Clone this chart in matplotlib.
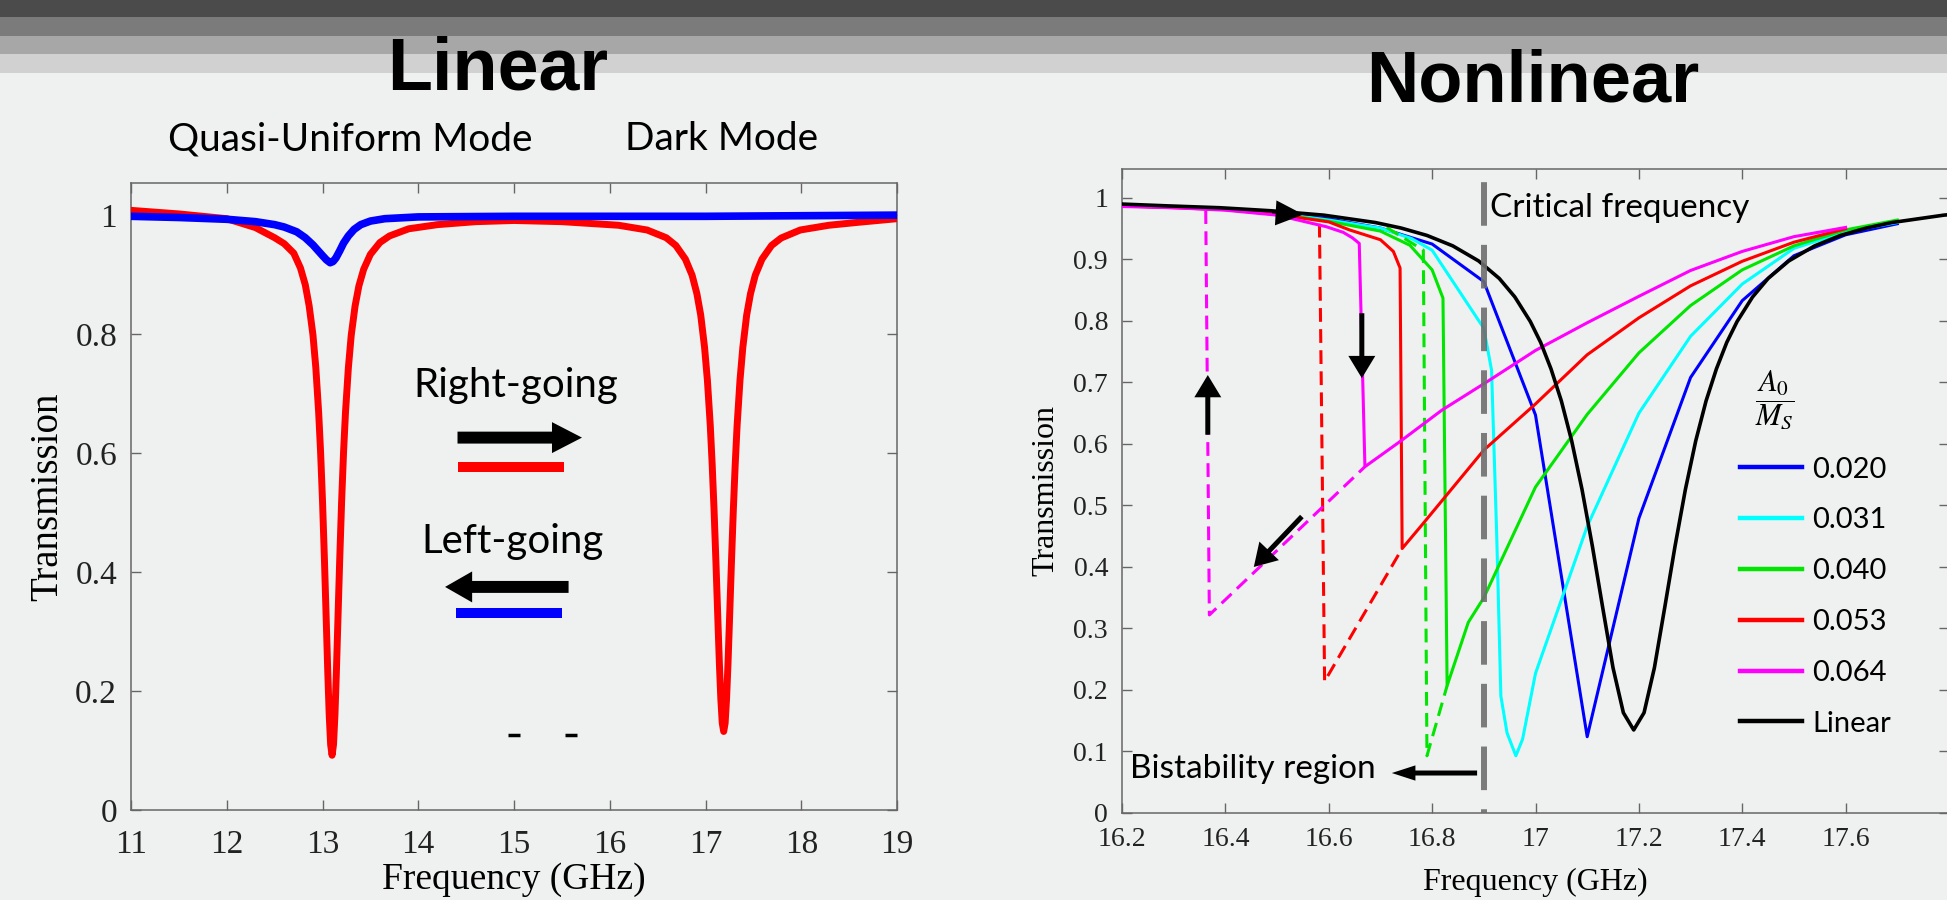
import matplotlib
matplotlib.use('Agg')
import matplotlib.pyplot as plt
from matplotlib.lines import Line2D

plt.rcParams['font.family'] = ['Liberation Serif', 'DejaVu Serif']
plt.rcParams['mathtext.fontset'] = 'stix'

# ---------------- dane: panel "Linear" ----------------
right_going_f = [11.0, 11.5, 12.0, 12.3, 12.5, 12.6, 12.7, 12.77, 12.82, 12.86, 12.9, 12.93, 12.96,
                 12.98, 13.0, 13.02, 13.04, 13.055, 13.07, 13.085, 13.1, 13.115, 13.13, 13.145,
                 13.16, 13.18, 13.2, 13.22, 13.24, 13.27, 13.3, 13.34, 13.38, 13.43, 13.5, 13.6,
                 13.7, 13.9, 14.2, 14.6, 15.0, 15.5, 16.09, 16.39, 16.59, 16.69, 16.79, 16.86,
                 16.91, 16.95, 16.99, 17.02, 17.05, 17.07, 17.09, 17.11, 17.13, 17.145, 17.16,
                 17.175, 17.19, 17.205, 17.22, 17.235, 17.25, 17.27, 17.29, 17.31, 17.33, 17.36,
                 17.39, 17.43, 17.47, 17.52, 17.59, 17.69, 17.79, 17.99, 18.29, 18.6, 19.0]
right_going_t = [1.008, 1.002, 0.994, 0.979, 0.962, 0.952, 0.936, 0.911, 0.883, 0.848, 0.799, 0.744,
                 0.668, 0.602, 0.52, 0.422, 0.314, 0.232, 0.16, 0.11, 0.092, 0.11, 0.16, 0.232,
                 0.314, 0.422, 0.52, 0.602, 0.668, 0.743, 0.798, 0.847, 0.881, 0.909, 0.934, 0.954,
                 0.965, 0.977, 0.984, 0.989, 0.991, 0.989, 0.983, 0.975, 0.962, 0.949, 0.926, 0.899,
                 0.868, 0.832, 0.778, 0.722, 0.646, 0.58, 0.502, 0.412, 0.316, 0.246, 0.187,
                 0.146, 0.132, 0.146, 0.187, 0.246, 0.316, 0.412, 0.502, 0.58, 0.646, 0.722,
                 0.778, 0.832, 0.868, 0.899, 0.926, 0.949, 0.9615, 0.975, 0.983, 0.988, 0.994]

left_going_f = [11.0, 11.5, 12.0, 12.3, 12.5, 12.6, 12.73, 12.82, 12.9, 12.95, 13.0, 13.04, 13.08,
                13.11, 13.14, 13.18, 13.22, 13.27, 13.33, 13.4, 13.5, 13.65, 14.0, 15.0, 16.0,
                17.0, 18.0, 19.0]
left_going_t = [0.998, 0.996, 0.993, 0.989, 0.984, 0.98, 0.972, 0.962, 0.95, 0.941, 0.932, 0.925,
                0.92, 0.922, 0.928, 0.94, 0.953, 0.965, 0.976, 0.984, 0.99, 0.994, 0.997, 0.998,
                0.998, 0.998, 0.999, 1.0]

stray_f = [15.0, 15.6]
stray_t = [0.126, 0.126]

lin_xticks = [11, 12, 13, 14, 15, 16, 17, 18, 19]
lin_yticks = [0, 0.2, 0.4, 0.6, 0.8, 1.0]
lin_ylabels = ['0', '0.2', '0.4', '0.6', '0.8', '1']

# ---------------- dane: panel "Nonlinear" ----------------
amp_labels = ['0.020', '0.031', '0.040', '0.053', '0.064', 'Linear']

a020_f = [16.2, 16.3, 16.4, 16.5, 16.6, 16.7, 16.8, 16.9, 17.0, 17.1, 17.2, 17.3, 17.4, 17.5, 17.6, 17.7]
a020_t = [0.987, 0.985, 0.982, 0.976, 0.966, 0.951, 0.925, 0.864, 0.647, 0.124, 0.479, 0.708, 0.833,
          0.906, 0.94, 0.958]

a031_f = [16.2, 16.3, 16.4, 16.5, 16.6, 16.7, 16.76, 16.8, 16.9, 16.915, 16.925, 16.933, 16.945,
          16.962, 16.975, 17.0, 17.1, 17.2, 17.3, 17.4, 17.5, 17.6, 17.7]
a031_t = [0.987, 0.985, 0.982, 0.975, 0.964, 0.951, 0.934, 0.915, 0.788, 0.72, 0.45, 0.19, 0.13,
          0.093, 0.12, 0.227, 0.466, 0.65, 0.775, 0.86, 0.918, 0.945, 0.96]

a040_f = [16.2, 16.3, 16.4, 16.5, 16.6, 16.7, 16.757, 16.8, 16.821, 16.829, 16.87, 16.9, 17.0,
          17.1, 17.2, 17.3, 17.4, 17.5, 17.6, 17.7]
a040_t = [0.987, 0.985, 0.981, 0.974, 0.962, 0.946, 0.923, 0.883, 0.837, 0.207, 0.31, 0.35, 0.53,
          0.648, 0.748, 0.825, 0.883, 0.922, 0.948, 0.964]
a040_back_f = [16.712, 16.783, 16.79, 16.829]
a040_back_t = [0.952, 0.915, 0.093, 0.207]

a053_f = [16.2, 16.3, 16.4, 16.5, 16.6, 16.64, 16.7, 16.725, 16.738, 16.742, 16.78, 16.9, 17.0,
          17.1, 17.2, 17.3, 17.4, 17.5, 17.6]
a053_t = [0.987, 0.984, 0.981, 0.973, 0.961, 0.948, 0.932, 0.913, 0.886, 0.43, 0.468, 0.59, 0.665,
          0.745, 0.805, 0.857, 0.897, 0.928, 0.95]
a053_back_f = [16.582, 16.592, 16.742]
a053_back_t = [0.958, 0.214, 0.43]

a064_f = [16.2, 16.3, 16.4, 16.5, 16.596, 16.628, 16.646, 16.659, 16.67, 16.738, 16.819, 16.906,
          17.0, 17.1, 17.2, 17.3, 17.4, 17.5, 17.6]
a064_t = [0.986, 0.984, 0.98, 0.972, 0.953, 0.944, 0.935, 0.926, 0.563, 0.604, 0.655, 0.701,
          0.752, 0.797, 0.84, 0.882, 0.913, 0.937, 0.952]
a064_back_f = [16.362, 16.369, 16.67]
a064_back_t = [0.98, 0.322, 0.563]

linear_f = [16.2, 16.29, 16.39, 16.49, 16.59, 16.69, 16.74, 16.79, 16.84, 16.89, 16.93, 16.96,
            16.99, 17.01, 17.03, 17.05, 17.07, 17.09, 17.11, 17.13, 17.15, 17.17, 17.19, 17.21,
            17.23, 17.25, 17.27, 17.29, 17.31, 17.33, 17.35, 17.37, 17.39, 17.42, 17.45, 17.49,
            17.54, 17.59, 17.64, 17.69, 17.79, 17.89]
linear_t = [0.99, 0.987, 0.984, 0.979, 0.972, 0.96, 0.951, 0.939, 0.922, 0.8975, 0.869, 0.839,
            0.799, 0.765, 0.722, 0.67, 0.605, 0.526, 0.434, 0.334, 0.236, 0.163, 0.135, 0.163,
            0.236, 0.334, 0.434, 0.526, 0.605, 0.67, 0.722, 0.765, 0.799, 0.839, 0.869, 0.8975,
            0.922, 0.939, 0.951, 0.96, 0.972, 0.979]

critical_f = 16.9

nl_xticks = [16.2, 16.4, 16.6, 16.8, 17.0, 17.2, 17.4, 17.6]
nl_xlabels = ['16.2', '16.4', '16.6', '16.8', '17', '17.2', '17.4', '17.6']
nl_yticks = [0, 0.1, 0.2, 0.3, 0.4, 0.5, 0.6, 0.7, 0.8, 0.9, 1.0]
nl_ylabels = ['0', '0.1', '0.2', '0.3', '0.4', '0.5', '0.6', '0.7', '0.8', '0.9', '1']

W, H = 1947, 900
BG = '#eff1f0'
SANS = ['Lato', 'DejaVu Sans']

fig = plt.figure(figsize=(W / 100, H / 100), dpi=100, facecolor=BG)

# pasy nagłówka slajdu
bands = [(0, 17, '#4a4b4a'), (17, 36, '#7a7b7a'), (36, 54, '#a6a7a6'), (54, 73, '#d0d1d0')]
for top, bot, col in bands:
    fig.add_artist(plt.Rectangle((0, 1 - bot / H), 1, (bot - top) / H, transform=fig.transFigure,
                                 color=col, lw=0, zorder=0))

fig.text(498 / W, 1 - 89 / H, 'Linear', ha='center', va='baseline', fontsize=53,
         fontweight='bold', family=['Liberation Sans'])
fig.text(1533 / W, 1 - 102 / H, 'Nonlinear', ha='center', va='baseline', fontsize=52,
         fontweight='bold', family=['Liberation Sans'])
fig.text(350 / W, 1 - 150 / H, 'Quasi-Uniform Mode', ha='center', va='baseline', fontsize=28,
         family=SANS)
fig.text(722 / W, 1 - 150 / H, 'Dark Mode', ha='center', va='baseline', fontsize=28, family=SANS)


def style_axes(ax, labelsize, length):
    ax.set_facecolor('none')
    for sp in ax.spines.values():
        sp.set_color('#666666')
        sp.set_linewidth(1.1)
    ax.tick_params(direction='in', top=True, right=True, length=length, width=1,
                   color='#666666', labelcolor='#222222', labelsize=labelsize)


# ---------------- panel lewy ----------------
ax1 = fig.add_axes([131 / W, 1 - 810 / H, 766 / W, 627 / H])
style_axes(ax1, 24, 7)
ax1.tick_params(axis='x', pad=14)
ax1.tick_params(axis='y', pad=10)
ax1.plot(right_going_f, right_going_t, color='#ff0000', lw=5, zorder=3)
ax1.plot(left_going_f, left_going_t, color='#0000ff', lw=5.5, zorder=4)
ax1.plot(stray_f, stray_t, ls='none', marker='_', ms=8, mew=2.5, color='k')
ax1.set_xlim(11, 19)
ax1.set_ylim(0, 1.054)
ax1.set_xticks(lin_xticks)
ax1.set_yticks(lin_yticks)
ax1.set_yticklabels(lin_ylabels)
ax1.set_xlabel('Frequency (GHz)', fontsize=27)
ax1.set_ylabel('Transmission', fontsize=28)
ax1.xaxis.set_label_coords(0.5, -0.083)
ax1.yaxis.set_label_coords(-0.085, 0.5)

ax1.text(15.02, 0.713, 'Right-going', ha='center', va='center', fontsize=29, family=SANS)
ax1.text(14.98, 0.452, 'Left-going', ha='center', va='center', fontsize=29, family=SANS)
big_arrow = dict(arrowstyle='simple,head_length=2.16,head_width=2.23,tail_width=0.86',
                 mutation_scale=10, color='k', lw=0, shrinkA=0, shrinkB=0)
ax1.annotate('', xy=(15.71, 0.626), xytext=(14.41, 0.626), arrowprops=big_arrow)
left_arrow = dict(big_arrow, arrowstyle='simple,head_length=1.95,head_width=2.23,tail_width=0.86')
ax1.annotate('', xy=(14.28, 0.375), xytext=(15.57, 0.375), arrowprops=left_arrow)
ax1.plot([14.41, 15.52], [0.576, 0.576], color='#ff0000', lw=7.2, solid_capstyle='butt')
ax1.plot([14.39, 15.50], [0.332, 0.332], color='#0000ff', lw=7.2, solid_capstyle='butt')

# ---------------- panel prawy ----------------
ax2 = fig.add_axes([1122 / W, 1 - 813 / H, 827 / W, 644 / H])
style_axes(ax2, 20, 7)
ax2.tick_params(axis='x', pad=10)
ax2.tick_params(axis='y', pad=10)

colors = ['#0000ff', '#00ffff', '#00e600', '#ff0000', '#ff00ff', 'k']
dash = (4.5, 2.4)
ax2.plot(a020_f, a020_t, color=colors[0], lw=2.2, zorder=3)
ax2.plot(a031_f, a031_t, color=colors[1], lw=2.2, zorder=3)
ax2.plot(a040_f, a040_t, color=colors[2], lw=2.2, zorder=3)
ax2.plot(a040_back_f, a040_back_t, color=colors[2], lw=2.2, dashes=dash, zorder=3)
ax2.plot(a053_f, a053_t, color=colors[3], lw=2.2, zorder=3)
ax2.plot(a053_back_f, a053_back_t, color=colors[3], lw=2.2, dashes=dash, zorder=3)
ax2.plot(a064_f, a064_t, color=colors[4], lw=2.2, zorder=3)
ax2.plot(a064_back_f, a064_back_t, color=colors[4], lw=2.2, dashes=dash, zorder=3)
ax2.plot(linear_f, linear_t, color='k', lw=2.6, zorder=4)
ax2.axvline(critical_f, color='#6e6e6e', lw=4.3, alpha=0.9,
            linestyle=(6.67, (7.3, 3.2)), zorder=5)

ax2.set_xlim(16.2, 17.8)
ax2.set_ylim(0, 1.047)
ax2.set_xticks(nl_xticks)
ax2.set_xticklabels(nl_xlabels)
ax2.set_yticks(nl_yticks)
ax2.set_yticklabels(nl_ylabels)
ax2.set_xlabel('Frequency (GHz)', fontsize=23)
ax2.set_ylabel('Transmission', fontsize=23)
ax2.xaxis.set_label_coords(0.5, -0.085)
ax2.yaxis.set_label_coords(-0.075, 0.5)

ax2.text(16.912, 0.969, 'Critical frequency', ha='left', va='baseline', fontsize=24,
         family=SANS, zorder=6)
ax2.text(16.215, 0.057, 'Bistability region', ha='left', va='baseline', fontsize=24,
         family=SANS, zorder=6)

thin_arrow = dict(arrowstyle='simple,head_length=1.6,head_width=1.94,tail_width=0.36',
                  mutation_scale=10, color='k', lw=0, shrinkA=0, shrinkB=0)
ax2.annotate('', xy=(16.664, 0.707), xytext=(16.664, 0.8125), arrowprops=thin_arrow, zorder=6)
ax2.annotate('', xy=(16.366, 0.712), xytext=(16.366, 0.615), arrowprops=thin_arrow, zorder=6)
ax2.annotate('', xy=(16.455, 0.40), xytext=(16.548, 0.482), arrowprops=thin_arrow, zorder=6)
ax2.annotate('', xy=(16.551, 0.973), xytext=(16.49, 0.976),
             arrowprops=dict(thin_arrow, arrowstyle='simple,head_length=2.0,head_width=1.8,tail_width=0.1'),
             zorder=6)
ax2.annotate('', xy=(16.722, 0.065), xytext=(16.887, 0.065),
             arrowprops=dict(thin_arrow, arrowstyle='simple,head_length=1.7,head_width=1.1,tail_width=0.36'),
             zorder=6)

handles = [Line2D([], [], color=c, lw=3.2) for c in colors]
leg = ax2.legend(handles, amp_labels, loc='upper left', bbox_to_anchor=(0.747, 0.69),
                 frameon=False, prop={'family': SANS, 'size': 21},
                 title=r'  $\dfrac{A_0}{M_S}$', title_fontsize=22, alignment='left',
                 handlelength=2.15, handletextpad=0.34, labelspacing=0.85,
                 borderpad=0, borderaxespad=0)

fig.savefig('out.png', dpi=100, facecolor=BG)
